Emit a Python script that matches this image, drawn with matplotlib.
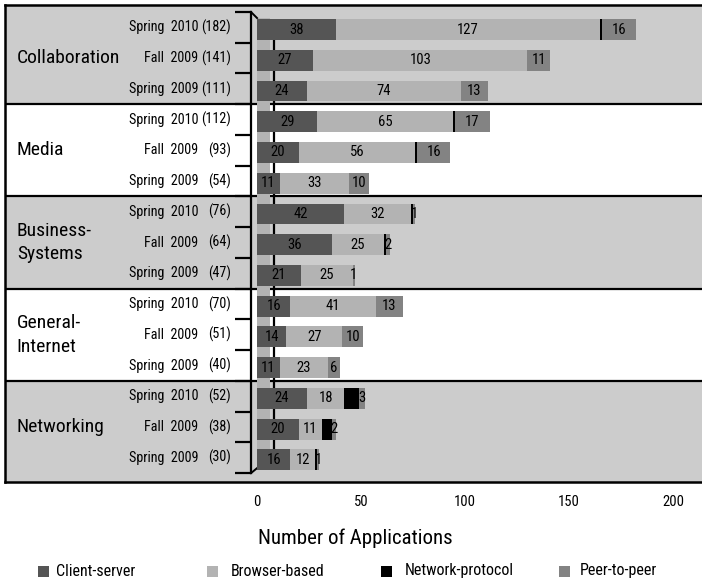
import matplotlib
matplotlib.use("Agg")
import matplotlib.pyplot as plt
from matplotlib import font_manager
from matplotlib.patches import Rectangle

# ── Data ─────────────────────────────────────────────────────────────────────

GROUPS  = ["Collaboration", "Media", "Business-\nSystems", "General-\nInternet", "Networking"]
PERIODS = ["Spring 2010", "Fall 2009", "Spring 2009"]

TOTALS  = [[182, 141, 111], [112, 93, 54], [76, 64, 47], [70, 51, 40], [52, 38, 30]]
CLIENT  = [[38, 27, 24], [29, 20, 11], [42, 36, 21], [16, 14, 11], [24, 20, 16]]
BROWSER = [[127, 103, 74], [65, 56, 33], [32, 25, 25], [41, 27, 23], [18, 11, 12]]
NETWORK = [[1, 0, 0], [1, 1, 0], [1, 1, 0], [0, 0, 0], [7, 5, 1]]
PEER    = [[16, 11, 13], [17, 16, 10], [1, 2, 1], [13, 10, 6], [3, 2, 1]]

SERIES_NAMES = ["Client-server", "Browser-based", "Network-protocol", "Peer-to-peer"]
XTICKS = [0, 50, 100, 150, 200]

# ── Style ────────────────────────────────────────────────────────────────────

COLORS = ["#555555", "#b3b3b3", "#000000", "#838383"]
BAND   = "#cccccc"
STRIP  = "#b3b3b3"

available = {f.name for f in font_manager.fontManager.ttflist}
family = "DejaVu Sans"
for cand in ["Roboto Condensed", "Liberation Sans Narrow", "Open Sans Condensed"]:
    if cand in available:
        family = cand
        break
plt.rcParams["font.family"] = [family, "DejaVu Sans"]
plt.rcParams["font.stretch"] = "condensed"

W, H = 702, 587
fig = plt.figure(figsize=(W / 100, H / 100), dpi=100)

# axes covers the framed panel; x in applications (0 at the bar base), y in rows
x_left, x_right = -121.15, 213.9
ax = fig.add_axes([5 / W, 1 - 482 / H, 1 - 5 / W, 477 / H])
ax.set_xlim(x_left, x_right)
ax.set_ylim(14.79, -0.728)

n_rows = len(GROUPS) * len(PERIODS)

# alternating group bands
for g in range(len(GROUPS)):
    top = 3 * g - 0.5 if g > 0 else -0.728
    bot = 3 * g + 2.5 if g < len(GROUPS) - 1 else 14.79
    ax.axhspan(top, bot, color=BAND if g % 2 == 0 else "white", zorder=0, lw=0)
    if g > 0:
        ax.axhline(3 * g - 0.5, color="black", lw=1.6, zorder=1)

# wall strip and baseline behind the bars
ax.add_patch(Rectangle((0, -0.305), 6.25, 14.645, color=STRIP, lw=0, zorder=2))
ax.plot([8.2, 8.2], [0, 14], color="black", lw=1.6, zorder=2)

# row bracket with tick marks
bx = -2.88
ax.plot([bx, bx], [-0.5, 14.5], color="black", lw=1.6, zorder=3)
ax.plot([bx, 0], [-0.5, -0.305], color="black", lw=1.4, zorder=3)
ax.plot([bx, 0], [14.5, 14.34], color="black", lw=1.4, zorder=3)
for k in range(n_rows + 1):
    ax.plot([-10.6, bx], [k - 0.5, k - 0.5], color="black", lw=1.6, zorder=3,
            solid_capstyle="butt")

# stacked bars
bar_h = 0.68
for g in range(len(GROUPS)):
    for p in range(len(PERIODS)):
        row = 3 * g + p
        y = row + 0.07
        left = 0
        parts = [CLIENT[g][p], BROWSER[g][p], NETWORK[g][p], PEER[g][p]]
        for s, val in enumerate(parts):
            if val == 0:
                continue
            ax.barh(y, val, left=left, height=bar_h, color=COLORS[s], lw=0, zorder=4)
            if s != 2:
                ax.text(left + val / 2, y, str(val), ha="center", va="center",
                        fontsize=10.5, color="black", zorder=5)
            left += val

        ax.text(-28.3, row, PERIODS[p].replace(" ", "  "), ha="right", va="center",
                fontsize=10.2, zorder=5)
        ax.text(-12.6, row, f"({TOTALS[g][p]})", ha="right", va="center",
                fontsize=10.2, zorder=5)

    ax.text(-115.5, 3 * g + 1, GROUPS[g], ha="left", va="center", fontsize=14,
            linespacing=1.4, zorder=5)

# frame and axis
for side in ["top", "left", "bottom"]:
    ax.spines[side].set_linewidth(1.8)
ax.spines["right"].set_visible(False)
ax.set_yticks([])
ax.set_xticks(XTICKS)
ax.set_xticklabels([str(t) for t in XTICKS], fontsize=10.5)
ax.tick_params(axis="x", length=0, pad=9)

fig.text(355 / W, 1 - 538 / H, "Number of Applications", ha="center", va="center",
         fontsize=15)

# legend
sq_x  = [38, 207, 381, 559]
txt_x = [56, 231, 405, 580]
ly = 571
for s, name in enumerate(SERIES_NAMES):
    fig.patches.append(Rectangle((sq_x[s] / W, 1 - (ly + 5.5) / H), 11 / W, 11 / H,
                                 transform=fig.transFigure, color=COLORS[s], lw=0))
    fig.text(txt_x[s] / W, 1 - ly / H, name, ha="left", va="center", fontsize=11.5)

fig.savefig("out.png", dpi=100)
